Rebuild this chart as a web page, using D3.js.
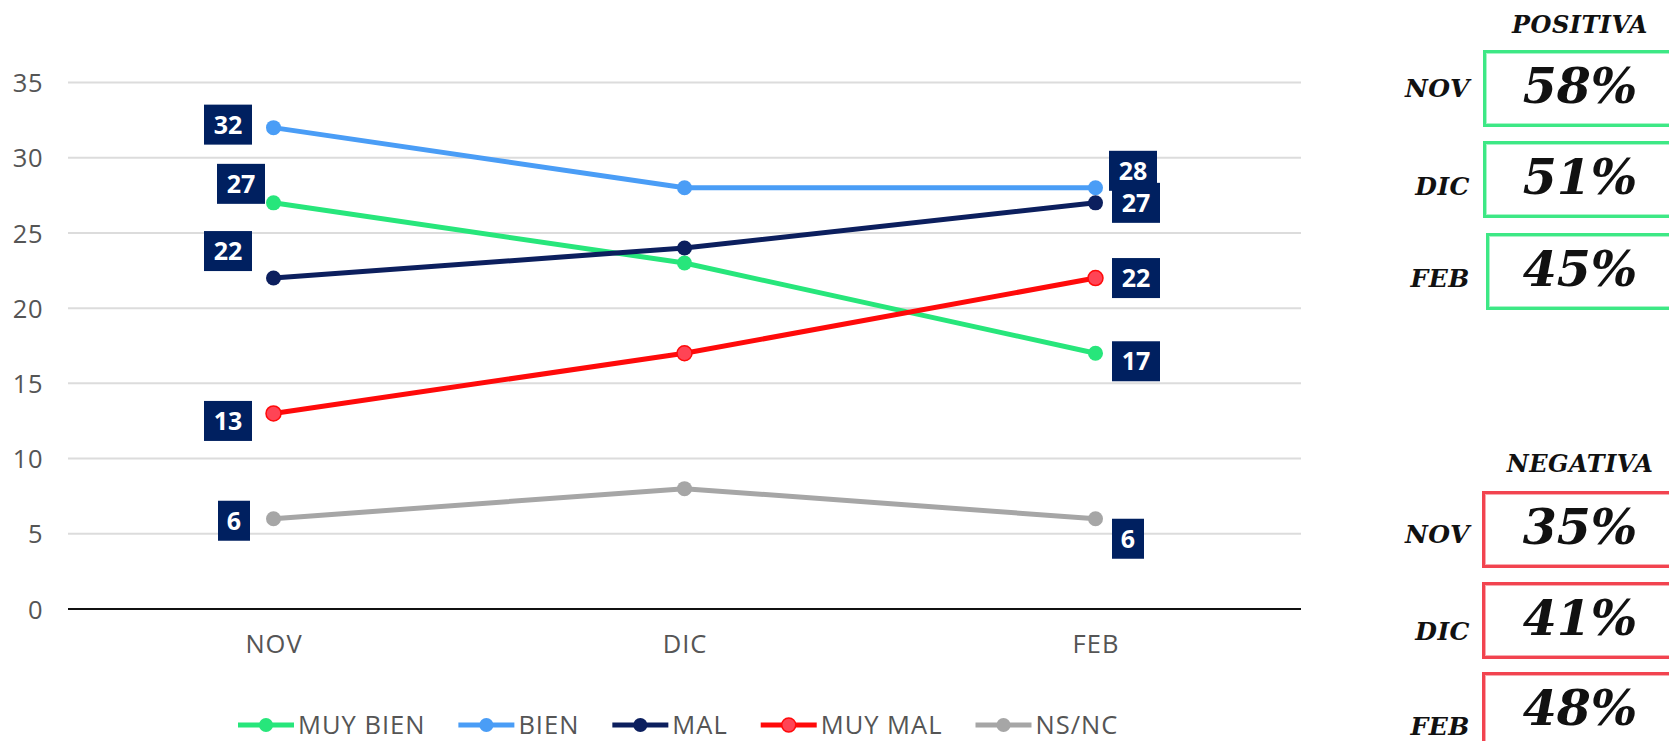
<!DOCTYPE html>
<html>
<head>
<meta charset="utf-8">
<script src="https://cdn.jsdelivr.net/npm/d3@7"></script>
<style>
  html, body { margin: 0; padding: 0; background: #fff; }
  svg { display: block; }
</style>
</head>
<body>
<svg id="chart" width="1669" height="741"></svg>
<script>
// ---- data ----
const months = ["NOV", "DIC", "FEB"];
const seriesNames = ["MUY BIEN", "BIEN", "MAL", "MUY MAL", "NS/NC"];
const muyBien = [27, 23, 17];
const bien = [32, 28, 28];
const mal = [22, 24, 27];
const muyMal = [13, 17, 22];
const nsnc = [6, 8, 6];
const yTicks = [0, 5, 10, 15, 20, 25, 30, 35];

const positivaLabel = "POSITIVA";
const negativaLabel = "NEGATIVA";
const positiva = [58, 51, 45];
const negativa = [35, 41, 48];

// ---- styling ----
const colors = {
  "MUY BIEN": "#27E67B",
  "BIEN": "#4A9DF6",
  "MAL": "#0C1F5E",
  "MUY MAL": "#FF0A0A",
  "NS/NC": "#A6A6A6"
};
const dotFill = { "MUY MAL": "#FF4455" };
const labelBg = "#002060";
const axisText = "#555555";

const series = seriesNames.map((name, i) => ({
  name,
  values: [muyBien, bien, mal, muyMal, nsnc][i]
}));

// label placement around each end point: side and vertical shift of the box centre
const labelPlacement = {
  "MUY BIEN": { NOV: { side: "left", gap: 8.5, dy: -19 }, FEB: { side: "right", gap: 16.5, dy: 8 } },
  "BIEN":     { NOV: { side: "left", gap: 21.5, dy: -3 }, FEB: { side: "right", gap: 13.5, dy: -17 } },
  "MAL":      { NOV: { side: "left", gap: 21.5, dy: -27 }, FEB: { side: "right", gap: 16.5, dy: 0 } },
  "MUY MAL":  { NOV: { side: "left", gap: 21.5, dy: 7.5 }, FEB: { side: "right", gap: 16.5, dy: 0 } },
  "NS/NC":    { NOV: { side: "left", gap: 23.5, dy: 2 }, FEB: { side: "right", gap: 16.5, dy: 20 } }
};

const svg = d3.select("#chart");

// ---- scales ----
const plotLeft = 68, plotRight = 1301;
const x = d3.scalePoint().domain(months).range([plotLeft, plotRight]).padding(0.5);
const y = d3.scaleLinear().domain([0, 35]).range([609, 82.5]);

// ---- grid + y labels ----
const grid = svg.append("g");
grid.selectAll("line")
  .data(yTicks.filter(t => t > 0))
  .join("line")
  .attr("x1", plotLeft).attr("x2", plotRight)
  .attr("y1", d => y(d)).attr("y2", d => y(d))
  .attr("stroke", "#DCDCDC").attr("stroke-width", 2);

const yAxis = d3.axisLeft(y).tickValues(yTicks).tickSize(0).tickPadding(0);
const yG = svg.append("g").attr("transform", "translate(43,0)").call(yAxis);
yG.select(".domain").remove();
yG.selectAll("text")
  .attr("font-family", "'Open Sans', sans-serif")
  .attr("font-size", 25.5)
  .attr("letter-spacing", 0.5)
  .attr("fill", axisText)
  .attr("dy", "0.36em");

// baseline
svg.append("line")
  .attr("x1", plotLeft).attr("x2", plotRight)
  .attr("y1", y(0)).attr("y2", y(0))
  .attr("stroke", "#111").attr("stroke-width", 2);

// ---- x labels ----
const xAxis = d3.axisBottom(x).tickSize(0).tickPadding(0);
const xG = svg.append("g").attr("transform", "translate(0,653)").call(xAxis);
xG.select(".domain").remove();
xG.selectAll("text")
  .attr("font-family", "'Open Sans', sans-serif")
  .attr("font-size", 25.5)
  .attr("letter-spacing", 1)
  .attr("fill", axisText)
  .attr("dy", 0)
  .attr("y", 0);

// ---- lines and markers ----
const line = d3.line().x((d, i) => x(months[i])).y(d => y(d));
const seriesG = svg.append("g");
series.forEach(s => {
  const g = seriesG.append("g");
  g.append("path")
    .attr("d", line(s.values))
    .attr("fill", "none")
    .attr("stroke", colors[s.name])
    .attr("stroke-width", 5)
    .attr("stroke-linejoin", "round");
  g.selectAll("circle")
    .data(s.values)
    .join("circle")
    .attr("cx", (d, i) => x(months[i]))
    .attr("cy", d => y(d))
    .attr("r", 7.5)
    .attr("fill", dotFill[s.name] || colors[s.name])
    .attr("stroke", colors[s.name])
    .attr("stroke-width", dotFill[s.name] ? 1.5 : 0);
});

// ---- data labels (first and last month) ----
const labelsG = svg.append("g");
series.forEach(s => {
  ["NOV", "FEB"].forEach(m => {
    const i = months.indexOf(m);
    const v = s.values[i];
    const p = labelPlacement[s.name][m];
    const px = x(m), py = y(v);
    const txt = String(v);
    const w = txt.length === 1 ? 32 : 48;
    const h = 40;
    const bx = p.side === "left" ? px - p.gap - w : px + p.gap;
    const cy = py + p.dy;
    labelsG.append("rect")
      .attr("x", bx).attr("y", cy - h / 2)
      .attr("width", w).attr("height", h)
      .attr("fill", labelBg);
    labelsG.append("text")
      .attr("x", bx + w / 2).attr("y", cy)
      .attr("dy", "0.36em")
      .attr("text-anchor", "middle")
      .attr("font-family", "'Open Sans', sans-serif")
      .attr("font-weight", 700)
      .attr("font-size", 25)
      .attr("fill", "#fff")
      .text(txt);
  });
});

// ---- legend ----
const legend = svg.append("g").attr("transform", "translate(238,725)");
let lx = 0;
series.forEach(s => {
  const g = legend.append("g").attr("transform", `translate(${lx},0)`);
  g.append("line").attr("x1", 0).attr("x2", 56).attr("y1", 0).attr("y2", 0)
    .attr("stroke", colors[s.name]).attr("stroke-width", 5);
  g.append("circle").attr("cx", 28).attr("cy", 0).attr("r", 7)
    .attr("fill", dotFill[s.name] || colors[s.name])
    .attr("stroke", colors[s.name]).attr("stroke-width", dotFill[s.name] ? 1.5 : 0);
  const t = g.append("text")
    .attr("x", 60).attr("y", 0).attr("dy", "0.36em")
    .attr("font-family", "'Open Sans', sans-serif")
    .attr("font-size", 25.5)
    .attr("letter-spacing", 1)
    .attr("fill", axisText)
    .text(s.name);
  lx += 60 + t.node().getComputedTextLength() + 33;
});

// ---- summary panels ----
function panel(title, titleY, values, boxTops, labelBaselines, boxX, stroke, innerStroke) {
  const g = svg.append("g");
  g.append("text")
    .attr("x", 1580).attr("y", titleY)
    .attr("text-anchor", "middle")
    .attr("font-family", "'DejaVu Serif', serif")
    .attr("font-style", "italic").attr("font-weight", 700)
    .attr("font-size", 24)
    .attr("letter-spacing", 0.5)
    .attr("fill", "#111")
    .text(title);
  values.forEach((v, i) => {
    const top = boxTops[i];
    const bx = boxX[i];
    g.append("rect")
      .attr("x", bx + 1.5).attr("y", top + 1.5)
      .attr("width", 300).attr("height", 74)
      .attr("fill", "#fff")
      .attr("stroke", stroke).attr("stroke-width", 3);
    g.append("rect")
      .attr("x", bx + 3.5).attr("y", top + 3.5)
      .attr("width", 300).attr("height", 70)
      .attr("fill", "none")
      .attr("stroke", innerStroke).attr("stroke-width", 1);
    g.append("text")
      .attr("x", 1470).attr("y", labelBaselines[i])
      .attr("text-anchor", "end")
      .attr("font-family", "'DejaVu Serif', serif")
      .attr("font-style", "italic").attr("font-weight", 700)
      .attr("font-size", 25)
      .attr("letter-spacing", 0.5)
      .attr("fill", "#111")
      .text(months[i]);
    g.append("text")
      .attr("x", 1580).attr("y", top + 53)
      .attr("text-anchor", "middle")
      .attr("font-family", "'DejaVu Serif', serif")
      .attr("font-style", "italic").attr("font-weight", 700)
      .attr("font-size", 49)
      .attr("fill", "#111")
      .text(v + "%");
  });
}

panel(positivaLabel, 33, positiva, [50, 141, 233], [97, 195, 287], [1483, 1483, 1486], "#3DE885", "#A8F4C8");
panel(negativaLabel, 472, negativa, [491, 582, 672], [543, 640, 735], [1482, 1482, 1482], "#F2434F", "#F8AAB0");
</script>
</body>
</html>
